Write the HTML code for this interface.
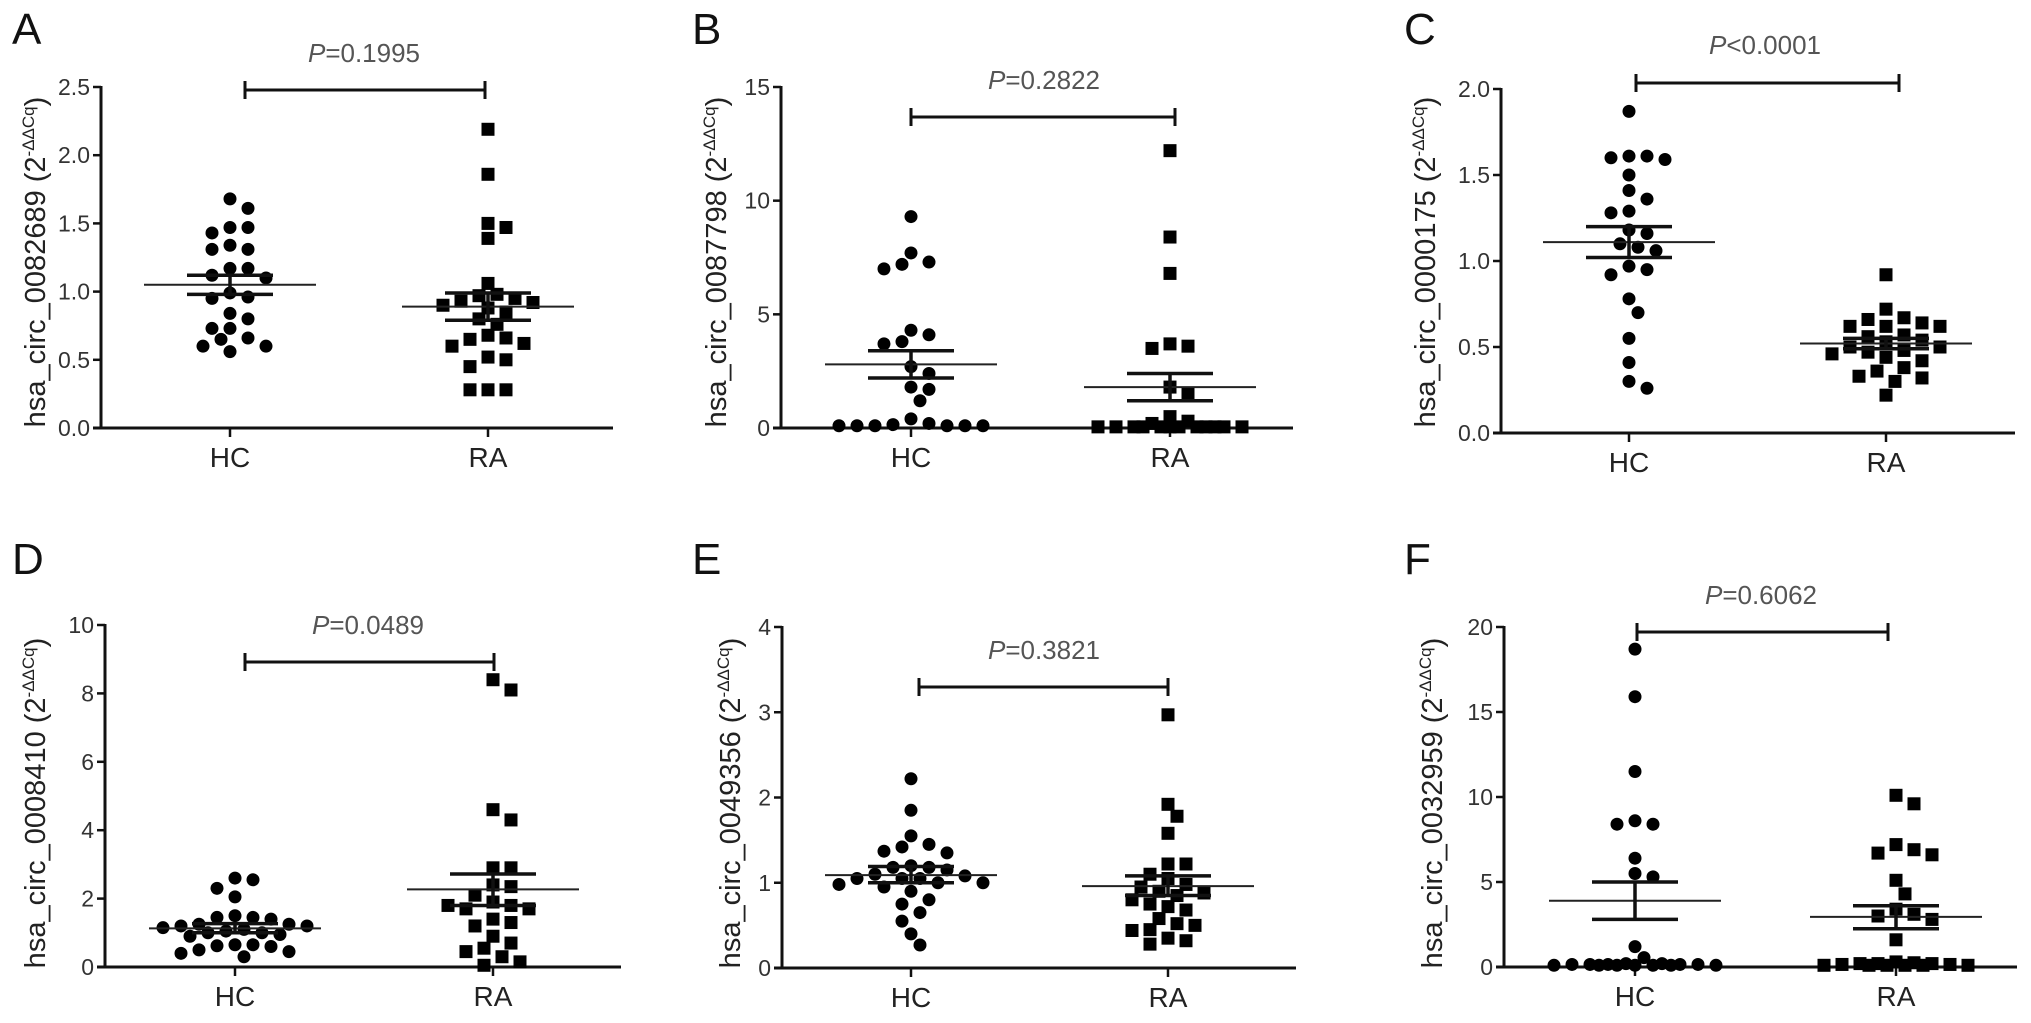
<!DOCTYPE html>
<html><head><meta charset="utf-8">
<style>
html,body{margin:0;padding:0;background:#fff;}
svg{display:block;font-family:"Liberation Sans",Arial,sans-serif;}
</style></head>
<body>
<svg id="fig" width="2031" height="1023" viewBox="0 0 2031 1023" xmlns="http://www.w3.org/2000/svg"></svg>
<script>
// ---------- data ----------
const groups = ["HC", "RA"];
const panelLetters = ["A","B","C","D","E","F"];
const genes = ["0082689","0087798","0000175","0008410","0049356","0032959"];
const pLabels = ["=0.1995","=0.2822","<0.0001","=0.0489","=0.3821","=0.6062"];
const tickA = [0,0.5,1,1.5,2,2.5];
const tickB = [0,5,10,15];
const tickC = [0,0.5,1,1.5,2];
const tickD = [0,2,4,6,8,10];
const tickE = [0,1,2,3,4];
const tickF = [0,5,10,15,20];
const tickLabelA = ["0.0","0.5","1.0","1.5","2.0","2.5"];
const tickLabelB = ["0","5","10","15"];
const tickLabelC = ["0.0","0.5","1.0","1.5","2.0"];
const tickLabelD = ["0","2","4","6","8","10"];
const tickLabelE = ["0","1","2","3","4"];
const tickLabelF = ["0","5","10","15","20"];

const hcA = [1.68,1.61,1.47,1.47,1.43,1.34,1.31,1.31,1.17,1.17,1.12,1.10,0.99,0.96,0.95,0.84,0.80,0.73,0.73,0.66,0.65,0.60,0.60,0.56];
const raA = [2.19,1.86,1.50,1.47,1.39,1.06,0.98,0.97,0.95,0.93,0.92,0.90,0.88,0.85,0.80,0.76,0.68,0.66,0.65,0.62,0.60,0.52,0.50,0.45,0.28,0.28,0.28];
const hcB = [9.3,7.7,7.3,7.2,7.0,4.3,4.1,3.8,3.7,2.7,2.4,1.8,1.7,1.2,0.4,0.2,0.15,0.1,0.1,0.1,0.1,0.1,0.1];
const raB = [12.2,8.4,6.8,3.7,3.6,3.5,1.8,1.5,0.5,0.3,0.2,0.05,0.05,0.05,0.05,0.05,0.05,0.05,0.05,0.05,0.05,0.05,0.05];
const hcC = [1.87,1.61,1.61,1.60,1.59,1.50,1.41,1.36,1.29,1.28,1.18,1.16,1.10,1.08,1.06,0.97,0.95,0.92,0.78,0.70,0.55,0.41,0.30,0.26];
const raC = [0.92,0.72,0.67,0.66,0.64,0.62,0.62,0.62,0.57,0.56,0.54,0.53,0.50,0.50,0.48,0.47,0.46,0.44,0.42,0.38,0.36,0.33,0.32,0.30,0.22];
const hcD = [2.6,2.55,2.3,2.05,1.5,1.45,1.45,1.4,1.25,1.25,1.2,1.2,1.15,1.1,1.05,1.0,1.0,0.95,0.9,0.65,0.65,0.62,0.6,0.5,0.45,0.4,0.3];
const raD = [8.4,8.1,4.6,4.3,2.9,2.9,2.4,2.35,2.1,1.9,1.8,1.7,1.7,1.8,1.4,1.3,1.2,0.9,0.7,0.55,0.45,0.3,0.15,0.05];
const hcE = [2.22,1.85,1.55,1.45,1.42,1.37,1.35,1.2,1.18,1.18,1.15,1.1,1.08,1.05,1.05,1.05,1.0,1.0,0.98,0.95,0.9,0.8,0.75,0.65,0.55,0.4,0.27];
const raE = [2.97,1.92,1.78,1.58,1.22,1.22,1.1,1.05,0.98,0.95,0.9,0.88,0.85,0.8,0.75,0.72,0.68,0.58,0.52,0.5,0.45,0.44,0.35,0.32,0.28];
const hcF = [18.7,15.9,11.5,8.6,8.4,8.4,6.4,5.5,5.3,1.2,0.55,0.2,0.2,0.15,0.15,0.15,0.15,0.15,0.1,0.1,0.1,0.1,0.1,0.1,0.1];
const raF = [10.1,9.6,7.2,6.9,6.7,6.6,5.1,4.3,3.4,3.1,3.0,2.8,1.6,0.3,0.25,0.2,0.2,0.2,0.15,0.15,0.1,0.1,0.1,0.1,0.1,0.1];

const meanHC = [1.05,2.8,1.11,1.13,1.09,3.9];
const semLoHC = [0.98,2.2,1.02,1.0,1.0,2.8];
const semHiHC = [1.12,3.4,1.20,1.27,1.19,5.0];
const meanRA = [0.89,1.8,0.52,2.27,0.96,2.95];
const semLoRA = [0.79,1.2,0.49,1.8,0.85,2.25];
const semHiRA = [0.99,2.4,0.55,2.72,1.08,3.6];

// ---------- layout (pixels, not data) ----------
const layout = [
 {ax:101, y0:428, yTop:87,  xHC:230, xRA:488, xEnd:613, sigY:90,  sigX1:245, sigX2:485, pX:364, pY:62,  lx:35,  ly:262, letX:12, letY:44},
 {ax:781, y0:428, yTop:87,  xHC:911, xRA:1170,xEnd:1293,sigY:117, sigX1:911, sigX2:1175,pX:1044,pY:89,  lx:716, ly:262, letX:692,letY:44},
 {ax:1501,y0:433, yTop:89,  xHC:1629,xRA:1886,xEnd:2015,sigY:83,  sigX1:1636,sigX2:1899,pX:1765,pY:54,  lx:1425,ly:262, letX:1404,letY:44},
 {ax:105, y0:967, yTop:625, xHC:235, xRA:493, xEnd:621, sigY:662, sigX1:245, sigX2:494, pX:368, pY:634, lx:35,  ly:803, letX:12, letY:574},
 {ax:782, y0:968, yTop:627, xHC:911, xRA:1168,xEnd:1296,sigY:687, sigX1:919, sigX2:1168,pX:1044,pY:659, lx:730, ly:803, letX:692,letY:574},
 {ax:1504,y0:967, yTop:627, xHC:1635,xRA:1896,xEnd:2017,sigY:632, sigX1:1637,sigX2:1888,pX:1761,pY:604, lx:1432,ly:803, letX:1404,letY:574}
];
const ticksAll = [tickA,tickB,tickC,tickD,tickE,tickF];
const tickLabelsAll = [tickLabelA,tickLabelB,tickLabelC,tickLabelD,tickLabelE,tickLabelF];
const hcAll = [hcA,hcB,hcC,hcD,hcE,hcF];
const raAll = [raA,raB,raC,raD,raE,raF];

const NS = "http://www.w3.org/2000/svg";
const svg = document.getElementById("fig");
function mk(tag, attrs, parent){
  const e = document.createElementNS(NS, tag);
  for (const k in attrs) e.setAttribute(k, attrs[k]);
  (parent||svg).appendChild(e);
  return e;
}
function swarm(vals, yScale, cx){
  const placed = [];
  const out = [];
  const cands = [];
  for (let i=0;i<=9;i++){ cands.push(i*9); if(i) cands.push(-i*9); }
  const minD = 14;
  vals.forEach(v=>{
    const y = yScale(v);
    let best = null, bestScore = -1;
    for (const o of cands){
      let md = 1e9;
      for (const p of placed){ const d = Math.hypot(p[0]-o, p[1]-y); if (d<md) md=d; }
      if (md >= minD){ best=o; bestScore=1e9; break; }
      if (md > bestScore){ bestScore = md; best = o; }
    }
    placed.push([best,y]);
    out.push([cx+best, y]);
  });
  return out;
}

layout.forEach((L, i)=>{
  const ticks = ticksAll[i];
  const vmax = ticks[ticks.length-1];
  const y = v => L.y0 - (v/vmax)*(L.y0-L.yTop);
  const g = mk("g", {});
  
  

  const letter = mk("text", {x:L.letX, y:L.letY, "font-size":44, fill:"#111"}, g);
  
  
  letter.textContent = panelLetters[i];

  const yl = mk("text", {x:0, y:0, "font-size":29, fill:"#222", "text-anchor":"middle",
     transform:`translate(${L.lx+10},${L.ly}) rotate(-90)`}, g);
  
  
  const t1 = mk("tspan", {}, yl); t1.textContent = "hsa_circ_" + genes[i] + " (2";
  const t2 = mk("tspan", {"font-size":17, dy:-11}, yl); t2.textContent = "-ΔΔCq";
  const t3 = mk("tspan", {dy:11}, yl); t3.textContent = ")";

  const yaxis = mk("line", {x1:L.ax, y1:L.yTop-1, x2:L.ax, y2:L.y0+1.5, stroke:"#111", "stroke-width":3}, g);
  
  
  const xaxis = mk("line", {x1:L.ax-8, y1:L.y0, x2:L.xEnd, y2:L.y0, stroke:"#111", "stroke-width":3}, g);
  
  
  ticks.forEach((t, k)=>{
    const ty = y(t);
    const tl = mk("line", {x1:L.ax-8, y1:ty, x2:L.ax, y2:ty, stroke:"#111", "stroke-width":2.5}, g);
    
    
    const tx = mk("text", {x:L.ax-11, y:ty+8, "font-size":23, fill:"#333", "text-anchor":"end"}, g);
    
    
    tx.textContent = tickLabelsAll[i][k];
  });
  [L.xHC, L.xRA].forEach((cx, k)=>{
    const tl = mk("line", {x1:cx, y1:L.y0, x2:cx, y2:L.y0+9, stroke:"#111", "stroke-width":2.5}, g);
    
    
    const tx = mk("text", {x:cx, y:L.y0+39, "font-size":28, fill:"#222", "text-anchor":"middle"}, g);
    
    
    tx.textContent = groups[k];
  });

  const sig = mk("path", {d:`M${L.sigX1},${L.sigY-9}V${L.sigY+9}M${L.sigX1},${L.sigY}H${L.sigX2}M${L.sigX2},${L.sigY-9}V${L.sigY+9}`, stroke:"#111", "stroke-width":3, fill:"none"}, g);
  
  
  const pt = mk("text", {x:L.pX, y:L.pY, "font-size":26, fill:"#555", "text-anchor":"middle"}, g);
  
  
  const pi = mk("tspan", {"font-style":"italic"}, pt); pi.textContent = "P";
  const pv = mk("tspan", {}, pt); pv.textContent = pLabels[i];

  swarm(hcAll[i], y, L.xHC).forEach(p=>{
    const c = mk("circle", {cx:p[0], cy:p[1], r:6.5, fill:"#000"}, g);
    
    
  });
  swarm(raAll[i], y, L.xRA).forEach(p=>{
    const r = mk("rect", {x:p[0]-6.5, y:p[1]-6.5, width:13, height:13, fill:"#000"}, g);
    
    
  });

  const stats = [[L.xHC, meanHC[i], semLoHC[i], semHiHC[i], 'hc'], [L.xRA, meanRA[i], semLoRA[i], semHiRA[i], 'ra']];
  stats.forEach(s=>{
    const cx = s[0];
    const m = mk("line", {x1:cx-86, y1:y(s[1]), x2:cx+86, y2:y(s[1]), stroke:"#222", "stroke-width":2}, g);
    
    
    const e = mk("path", {d:`M${cx-43},${y(s[2])}H${cx+43}M${cx-43},${y(s[3])}H${cx+43}M${cx},${y(s[2])}V${y(s[3])}`, stroke:"#111", "stroke-width":3.5, fill:"none"}, g);
    
    
  });
});
</script>
</body></html>
